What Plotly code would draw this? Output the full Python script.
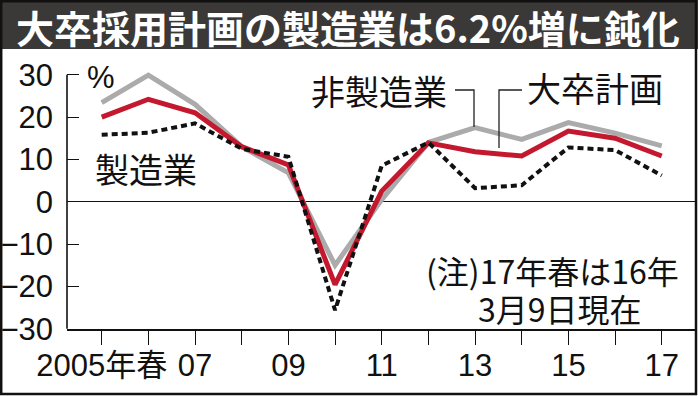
import plotly.graph_objects as go

# ---- data ----
years = [2005, 2006, 2007, 2008, 2009, 2010, 2011, 2012, 2013, 2014, 2015, 2016, 2017]
non_mfg = [23.4, 29.9, 23.0, 13.0, 6.8, -15.0, 0.5, 14.0, 17.5, 14.7, 18.7, 16.2, 13.2]
total = [20.0, 24.2, 21.0, 13.0, 8.7, -19.6, 2.5, 13.9, 11.8, 10.8, 16.7, 15.0, 10.8]
mfg = [15.8, 16.3, 18.5, 12.5, 10.6, -25.6, 8.5, 14.0, 3.2, 3.9, 12.8, 12.2, 6.2]

y_ticks = [-30, -20, -10, 0, 10, 20, 30]
x_tickvals = years
x_ticktext = ["2005年春", "", "07", "", "09", "", "11", "", "13", "", "15", "", "17"]

title_text = "大卒採用計画の製造業は6.2%増に鈍化"
note_line1 = "(注)17年春は16年"
note_line2 = "3月9日現在"

# ---- layout geometry (pixels) ----
W, H = 698, 396
L, R, T, B = 67, 695, 50, 329
X_PER_YEAR = 46.67
Y_PER_UNIT = 4.233
X0_PIX, Y0_PIX = 101.7, 201.7  # 2005 and 0 positions

def dx(p):
    return 2005 + (p - X0_PIX) / X_PER_YEAR

def dy(p):
    return (Y0_PIX - p) / Y_PER_UNIT

def px(p):
    return (p - L) / (R - L)

def py(p):
    return (B - p) / (B - T)

num_font = "Liberation Sans, Noto Sans CJK JP"
jp_font = "Noto Sans CJK JP"

fig = go.Figure()
fig.add_trace(go.Scatter(x=years, y=non_mfg, mode="lines", name="非製造業",
                         line=dict(color="#ababab", width=5), hoverinfo="skip"))
fig.add_trace(go.Scatter(x=years, y=total, mode="lines", name="大卒計画",
                         line=dict(color="#c4182e", width=5), hoverinfo="skip"))
fig.add_trace(go.Scatter(x=years, y=mfg, mode="lines", name="製造業",
                         line=dict(color="#111111", width=4, dash="6px,4px"), hoverinfo="skip"))

shapes = []
# title bar
shapes.append(dict(type="rect", xref="paper", yref="paper",
                   x0=px(0), x1=px(W), y0=py(0), y1=py(49),
                   fillcolor="#3b3937", line=dict(width=0), layer="above"))
# y axis line from -30 to 30
shapes.append(dict(type="line", xref="paper", yref="y", x0=0, x1=0, y0=-30, y1=30,
                   line=dict(color="#111", width=1.6)))
# leader lines
shapes.append(dict(type="path", xref="x", yref="y",
                   path=f"M {dx(455)},{dy(90)} L {dx(474)},{dy(90)} L {dx(474)},{dy(127)}",
                   line=dict(color="#222", width=1.3)))
shapes.append(dict(type="path", xref="x", yref="y",
                   path=f"M {dx(522)},{dy(90)} L {dx(499)},{dy(90)} L {dx(499)},{dy(148)}",
                   line=dict(color="#222", width=1.3)))
# outer border
shapes.append(dict(type="rect", xref="paper", yref="paper",
                   x0=px(1.2), x1=px(696), y0=py(1.2), y1=py(394),
                   line=dict(color="#111", width=2.5), layer="above"))

annotations = [
    dict(text=title_text, xref="paper", yref="paper", x=px(348), y=py(26),
         xanchor="center", yanchor="middle", showarrow=False,
         font=dict(family=jp_font, size=38, color="white", weight="bold")),
    dict(text="%", xref="paper", yref="paper", x=px(101), y=py(77),
         xanchor="center", yanchor="middle", showarrow=False,
         font=dict(family=num_font, size=31, color="#111")),
    dict(text="製造業", xref="paper", yref="paper", x=px(146), y=py(168),
         xanchor="center", yanchor="middle", showarrow=False,
         font=dict(family=jp_font, size=34, color="#111")),
    dict(text="非製造業", xref="paper", yref="paper", x=px(379), y=py(90),
         xanchor="center", yanchor="middle", showarrow=False,
         font=dict(family=jp_font, size=34, color="#111")),
    dict(text="大卒計画", xref="paper", yref="paper", x=px(595), y=py(88),
         xanchor="center", yanchor="middle", showarrow=False,
         font=dict(family=jp_font, size=34, color="#111")),
    dict(text=note_line1, xref="paper", yref="paper", x=px(552), y=py(270),
         xanchor="center", yanchor="middle", showarrow=False,
         font=dict(family=jp_font, size=32, color="#111")),
    dict(text=note_line2, xref="paper", yref="paper", x=px(560), y=py(308),
         xanchor="center", yanchor="middle", showarrow=False,
         font=dict(family=jp_font, size=32, color="#111")),
]

fig.update_layout(
    width=W, height=H,
    margin=dict(l=L, r=W - R, t=T, b=H - B, pad=0, autoexpand=False),
    paper_bgcolor="white", plot_bgcolor="white",
    showlegend=False,
    shapes=shapes, annotations=annotations,
    xaxis=dict(range=[dx(L), dx(R)], tickmode="array", tickvals=x_tickvals, ticktext=x_ticktext,
               ticks="outside", ticklen=14, tickwidth=1.3, tickcolor="#111",
               showline=True, linecolor="#111", linewidth=1.6, showgrid=False, zeroline=False,
               tickangle=0, automargin=False, ticklabelstandoff=-6,
               tickfont=dict(family=num_font, size=31, color="#111")),
    yaxis=dict(range=[dy(B), dy(T)], tickmode="array", tickvals=y_ticks,
               ticks="inside", ticklen=12, tickwidth=1.3, tickcolor="#111",
               showline=False, showgrid=False, automargin=False,
               zeroline=True, zerolinecolor="#111", zerolinewidth=1.2,
               tickfont=dict(family=num_font, size=31, color="#111"),
               ticklabelstandoff=13),
)

fig.write_html("out.html", config={"displayModeBar": False},
               post_script="document.body.style.margin='0';document.body.style.padding='0';")
